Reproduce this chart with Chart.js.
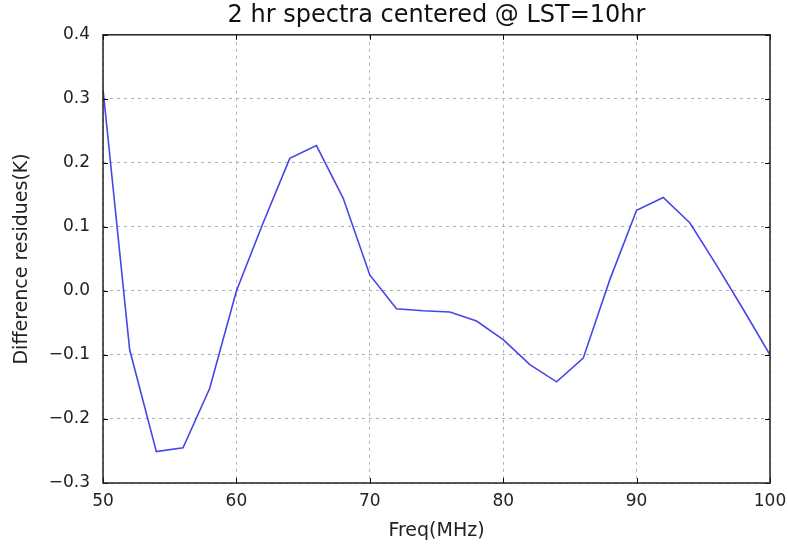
<!DOCTYPE html>
<html>
<head>
<meta charset="utf-8">
<script src="https://cdn.jsdelivr.net/npm/chart.js"></script>
<style>
  html,body{margin:0;padding:0;background:#fff;}
  #c{display:block;}
</style>
</head>
<body>
<canvas id="c" width="788" height="544"></canvas>
<script>
// 2 hr spectra residues
const freqs = [50,52,54,56,58,60,62,64,66,68,70,72,74,76,78,80,82,84,86,88,90,92,94,96,98,100];
const residues = [0.315,-0.092,-0.251,-0.245,-0.152,0.0,0.106,0.207,0.227,0.145,0.025,-0.028,-0.031,-0.033,-0.047,-0.076,-0.115,-0.142,-0.105,0.018,0.126,0.146,0.106,0.040,-0.029,-0.100];
const xTicks = [50,60,70,80,90,100];
const yTicks = [-0.3,-0.2,-0.1,0.0,0.1,0.2,0.3,0.4];

const FONT = 'DejaVu Sans';
function fmtY(v){ const s=Math.abs(v).toFixed(1); return (v<-1e-9?'\u2212':'')+s; }

// frame + inward tick marks like matplotlib classic
const frameTicks = {
  id:'frameTicks',
  afterDraw(chart){
    const {ctx, chartArea:a, scales:{x,y}} = chart;
    ctx.save();
    ctx.strokeStyle='#000'; ctx.lineWidth=1;
    ctx.beginPath();
    xTicks.forEach(v=>{ const px=Math.round(x.getPixelForValue(v))+0.5;
      ctx.moveTo(px,a.bottom); ctx.lineTo(px,a.bottom-5);
      ctx.moveTo(px,a.top); ctx.lineTo(px,a.top+5); });
    yTicks.forEach(v=>{ const py=Math.round(y.getPixelForValue(v))+0.5;
      ctx.moveTo(a.left,py); ctx.lineTo(a.left+5,py);
      ctx.moveTo(a.right,py); ctx.lineTo(a.right-5,py); });
    ctx.stroke();
    ctx.strokeStyle='#222'; ctx.lineWidth=1.5;
    ctx.strokeRect(a.left,a.top,a.right-a.left,a.bottom-a.top);
    ctx.restore();
  }
};

new Chart(document.getElementById('c'), {
  type:'line',
  data:{ datasets:[{
    data: freqs.map((f,i)=>({x:f,y:residues[i]})),
    borderColor:'rgba(50,50,230,0.9)', borderWidth:1.6,
    pointRadius:0, tension:0, fill:false
  }]},
  options:{
    responsive:false, animation:false,
    layout:{ padding:{ left:0, right:18, top:0, bottom:0 } },
    plugins:{
      legend:{display:false}, tooltip:{enabled:false},
      title:{ display:true, fullSize:false, text:'2 hr spectra centered @ LST=10hr', color:'#111',
        font:{family:FONT, size:24, weight:'normal'}, padding:{top:1,bottom:5} }
    },
    scales:{
      x:{ type:'linear', min:50, max:100,
        afterBuildTicks(s){ s.ticks = xTicks.map(v=>({value:v})); },
        afterFit(s){ s.height = 61; s.paddingLeft = 0; s.paddingRight = 0; },
        grid:{ color:'#b0b0b0', drawTicks:false, tickLength:0 },
        border:{ display:false, dash:[3,4] },
        ticks:{ color:'#222', padding:8, font:{family:FONT,size:17} },
        title:{ display:true, text:'Freq(MHz)', color:'#222', font:{family:FONT,size:19}, padding:{top:1,bottom:2} }
      },
      y:{ min:-0.3, max:0.4,
        afterBuildTicks(s){ s.ticks = yTicks.map(v=>({value:v})); },
        afterFit(s){ s.width = 103; s.paddingTop = 0; s.paddingBottom = 0; },
        grid:{ color:'#b0b0b0', drawTicks:false, tickLength:0 },
        border:{ display:false, dash:[3,4] },
        ticks:{ color:'#222', padding:13, font:{family:FONT,size:17}, callback:v=>fmtY(v) },
        title:{ display:true, text:'Difference residues(K)', color:'#222', font:{family:FONT,size:19}, padding:{top:11,bottom:2} }
      }
    }
  },
  plugins:[frameTicks]
});
</script>
</body>
</html>
